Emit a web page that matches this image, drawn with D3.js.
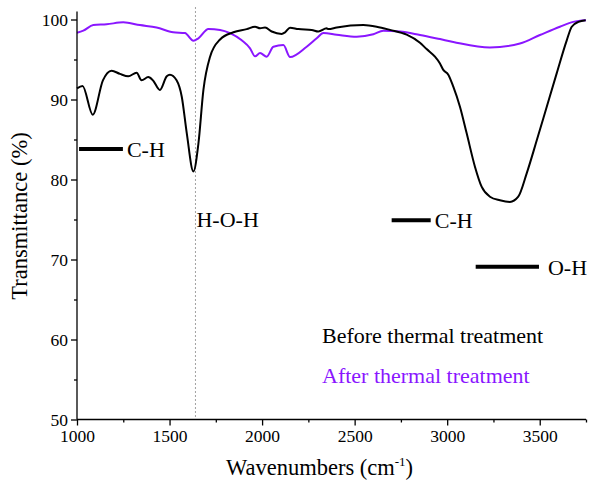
<!DOCTYPE html>
<html>
<head>
<meta charset="utf-8">
<script src="https://cdn.jsdelivr.net/npm/d3@7"></script>
<style>
  html, body { margin: 0; padding: 0; background: #fff; }
  svg text { font-family: "Liberation Serif", "Times New Roman", serif; }
</style>
</head>
<body>
<div id="chart"></div>
<script>
// FTIR spectra
const beforeWave = [1000, 1030, 1085, 1140, 1187, 1232, 1277, 1322, 1349, 1385, 1412, 1448, 1485, 1502, 1538, 1566, 1593, 1629, 1656, 1683, 1719, 1773, 1845, 1917, 1962, 1989, 2016, 2052, 2106, 2124, 2151, 2196, 2268, 2304, 2349, 2358, 2403, 2547, 2619, 2691, 2781, 2853, 2889, 2934, 2961, 2979, 3006, 3033, 3069, 3105, 3150, 3186, 3231, 3285, 3339, 3384, 3430, 3484, 3538, 3592, 3646, 3673, 3709, 3748];
const beforeT    = [91.4, 91.7, 88.1, 92.4, 93.6, 93.2, 92.9, 93.35, 92.4, 92.8, 92.35, 91.2, 92.9, 93.1, 92.4, 90.35, 85.8, 81.0, 84.5, 91.2, 95.35, 97.5, 98.4, 98.8, 99.1, 98.9, 99.0, 98.5, 98.2, 98.4, 98.98, 98.8, 98.7, 98.5, 98.9, 98.8, 99.0, 99.3, 99.1, 98.7, 98.1, 97.1, 96.3, 95.35, 94.5, 93.7, 93.1, 91.6, 89.1, 85.8, 81.6, 79.1, 77.85, 77.4, 77.2, 77.85, 80.8, 84.9, 89.1, 93.3, 97.4, 99.1, 99.7, 99.9];

const afterWave = [1000, 1034, 1088, 1160, 1250, 1340, 1430, 1520, 1583, 1629, 1656, 1710, 1773, 1827, 1890, 1935, 1962, 1989, 2025, 2061, 2115, 2151, 2241, 2295, 2331, 2403, 2511, 2601, 2655, 2745, 2853, 2961, 3033, 3231, 3393, 3501, 3609, 3681, 3750];
const afterT    = [98.35, 98.6, 99.3, 99.4, 99.65, 99.3, 99.0, 98.4, 98.3, 97.35, 97.65, 98.8, 98.7, 98.3, 97.4, 96.4, 95.4, 95.8, 95.35, 96.6, 96.8, 95.3, 96.6, 97.65, 98.3, 98.1, 97.85, 98.15, 98.6, 98.5, 98.06, 97.55, 97.2, 96.5, 97.0, 98.06, 99.1, 99.7, 99.9];

const xTicks = [1000, 1500, 2000, 2500, 3000, 3500];
const yTicks = [50, 60, 70, 80, 90, 100];

// band markers
const bands = [
  { x0: 1011, x1: 1248, y: 83.8, label: 'C-H' },
  { x0: 2700, x1: 2911, y: 74.9, label: 'C-H' },
  { x0: 3154, x1: 3496, y: 69.1, label: 'O-H' },
];
const waterLine = 1640;

const W = 590, H = 481;

const svg = d3.select('#chart').append('svg')
  .attr('width', W)
  .attr('height', H);

const x = d3.scaleLinear().domain([1000, 3750]).range([77, 586]);
const y = d3.scaleLinear().domain([50, 100]).range([419.5, 19.5]);

const purple = '#8a16ff';
const labelSize = 22;

// dotted H-O-H marker
svg.append('line')
  .attr('x1', x(waterLine)).attr('x2', x(waterLine))
  .attr('y1', y(101.5)).attr('y2', y(50))
  .attr('stroke', '#444')
  .attr('stroke-width', 1)
  .attr('stroke-dasharray', '1,3');

svg.append('text')
  .attr('x', x(waterLine) + 1)
  .attr('y', y(74.1))
  .attr('font-size', labelSize)
  .text('H-O-H');

// curves
const line = d3.line()
  .x(d => x(d[0]))
  .y(d => y(d[1]))
  .curve(d3.curveMonotoneX);

svg.append('path')
  .datum(afterWave.map((w, i) => [w, afterT[i]]))
  .attr('fill', 'none')
  .attr('stroke', purple)
  .attr('stroke-width', 2)
  .attr('d', line);

svg.append('path')
  .datum(beforeWave.map((w, i) => [w, beforeT[i]]))
  .attr('fill', 'none')
  .attr('stroke', '#000')
  .attr('stroke-width', 2)
  .attr('d', line);

// band bars
const band = svg.append('g').selectAll('g').data(bands).join('g');
band.append('line')
  .attr('x1', d => x(d.x0)).attr('x2', d => x(d.x1))
  .attr('y1', d => y(d.y)).attr('y2', d => y(d.y))
  .attr('stroke', '#000')
  .attr('stroke-width', 4);
band.append('text')
  .attr('x', d => x(d.x1) + (d.label === 'O-H' ? 9 : 4))
  .attr('y', d => y(d.y) + 8)
  .attr('font-size', labelSize)
  .text(d => d.label);

// axes
const xAxis = svg.append('g')
  .attr('transform', `translate(0,${y(50)})`)
  .call(d3.axisBottom(x).tickValues(xTicks).tickSize(6).tickSizeOuter(0).tickPadding(4).tickFormat(d3.format('d')));
svg.append('g')
  .attr('transform', `translate(0,${y(50)})`)
  .call(d3.axisBottom(x).tickValues([1250, 1750, 2250, 2750, 3250, 3750]).tickSize(3).tickFormat(''))
  .select('.domain').remove();

const yAxis = svg.append('g')
  .attr('transform', `translate(${x(1000)},0)`)
  .call(d3.axisLeft(y).tickValues(yTicks).tickSize(6).tickSizeOuter(0).tickPadding(3));
svg.append('g')
  .attr('transform', `translate(${x(1000)},0)`)
  .call(d3.axisLeft(y).tickValues([55, 65, 75, 85, 95]).tickSize(3).tickFormat(''))
  .select('.domain').remove();

// y axis line runs a little above 100
yAxis.select('.domain').attr('d', `M0,${y(101)}V${y(50)}`);
xAxis.select('.domain').attr('d', `M${x(1000)},0H${x(3750)}`);

svg.selectAll('.domain, .tick line').attr('stroke', '#000').attr('stroke-width', 1.3);
svg.selectAll('.tick text')
  .attr('font-family', '"Liberation Serif", "Times New Roman", serif')
  .attr('font-size', 17.5)
  .attr('fill', '#000');

// axis titles
const xt = svg.append('text')
  .attr('x', 226)
  .attr('y', 475)
  .attr('font-size', 22.5);
xt.append('tspan').text('Wavenumbers (cm');
xt.append('tspan').attr('font-size', 13).attr('dy', -9).text('-1');
xt.append('tspan').attr('dy', 9).text(')');

svg.append('text')
  .attr('transform', 'translate(27,216) rotate(-90)')
  .attr('text-anchor', 'middle')
  .attr('font-size', 22.5)
  .text('Transmittance (%)');

// legend
svg.append('text')
  .attr('x', 322).attr('y', 343)
  .attr('font-size', labelSize)
  .attr('fill', '#000')
  .text('Before thermal treatment');
svg.append('text')
  .attr('x', 322).attr('y', 383)
  .attr('font-size', labelSize)
  .attr('fill', purple)
  .text('After thermal treatment');
</script>
</body>
</html>
